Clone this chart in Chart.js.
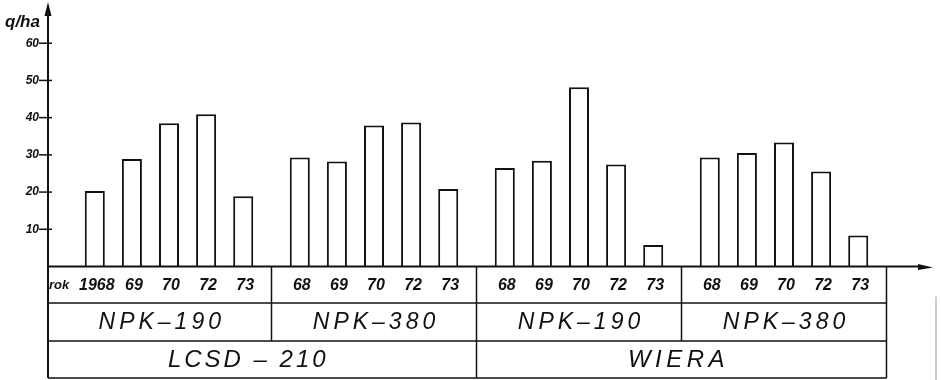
<!DOCTYPE html>
<html>
<head>
<meta charset="utf-8">
<script src="https://cdn.jsdelivr.net/npm/chart.js@4/dist/chart.umd.min.js"></script>
<style>
  body { margin: 0; background: #fff; }
  canvas { display: block; }
</style>
</head>
<body>
<canvas id="yield-chart" width="941" height="380"></canvas>
<script>
// data (yield in q/ha)
const years = ['1968', '69', '70', '72', '73'];
const fertilizers = ['NPK–190', 'NPK–380', 'NPK–190', 'NPK–380'];
const varieties = ['LCSD – 210', 'WIERA'];
const yTicks = [10, 20, 30, 40, 50, 60];
const yUnit = 'q/ha';
const yearLabel = 'rok';

// one array per variety / fertilizer block, in the order of years
const lcsdNpk190 = [20.3, 28.9, 38.5, 40.9, 18.9];
const lcsdNpk380 = [29.3, 28.2, 37.9, 38.7, 20.8];
const wieraNpk190 = [26.5, 28.4, 48.2, 27.4, 5.8];
const wieraNpk380 = [29.3, 30.5, 33.3, 25.5, 8.3];

const blocks = [lcsdNpk190, lcsdNpk380, wieraNpk190, wieraNpk380];

const ink = '#111';
const font = "'Liberation Sans', Arial, sans-serif";

// axes, arrows and the label table under the bars
const figurePlugin = {
    id: 'figure',
    afterDatasetsDraw(chart) {
        const { ctx, scales: { x, y } } = chart;
        const base = y.getPixelForValue(0);
        const axisX = 48;
        const row1 = base + 36.5;
        const row2 = base + 74.5;
        const row3 = base + 111.5;
        const edge = (i) => (i === 0 ? axisX : x.getPixelForValue(i - 0.5));
        const tableRight = edge(fertilizers.length);

        ctx.save();
        ctx.strokeStyle = ink;
        ctx.fillStyle = ink;

        // y axis with arrow
        ctx.lineWidth = 2;
        ctx.beginPath();
        ctx.moveTo(axisX, row3);
        ctx.lineTo(axisX, 8);
        ctx.stroke();
        ctx.beginPath();
        ctx.moveTo(axisX, 2);
        ctx.lineTo(axisX - 3.5, 16);
        ctx.lineTo(axisX + 3.5, 16);
        ctx.closePath();
        ctx.fill();

        // x axis with arrow
        ctx.beginPath();
        ctx.moveTo(axisX, base);
        ctx.lineTo(922, base);
        ctx.stroke();
        ctx.beginPath();
        ctx.moveTo(933, base + 1);
        ctx.lineTo(918, base - 2.5);
        ctx.lineTo(918, base + 3.5);
        ctx.closePath();
        ctx.fill();

        // y ticks
        ctx.lineWidth = 1.5;
        ctx.font = `bold italic 12px ${font}`;
        ctx.textAlign = 'right';
        ctx.textBaseline = 'middle';
        yTicks.forEach((v) => {
            const py = y.getPixelForValue(v);
            ctx.beginPath();
            ctx.moveTo(axisX - 9, py);
            ctx.lineTo(axisX + 4, py);
            ctx.stroke();
            ctx.fillText(String(v), axisX - 9, py);
        });

        // unit
        ctx.font = `bold italic 17px ${font}`;
        ctx.textAlign = 'left';
        ctx.textBaseline = 'alphabetic';
        ctx.fillText(yUnit, 5, 27);

        // table grid
        ctx.lineWidth = 1.5;
        ctx.beginPath();
        [row1, row2, row3].forEach((ry) => {
            ctx.moveTo(axisX, ry);
            ctx.lineTo(tableRight, ry);
        });
        for (let i = 1; i < fertilizers.length; i++) {
            const ex = edge(i);
            ctx.moveTo(ex, base);
            ctx.lineTo(ex, i === 2 ? row3 : row2);
        }
        ctx.moveTo(tableRight, base);
        ctx.lineTo(tableRight, row3);
        ctx.stroke();

        // faint frame line at the right edge of the scan
        ctx.strokeStyle = '#999';
        ctx.lineWidth = 1;
        ctx.beginPath();
        ctx.moveTo(936, base + 30);
        ctx.lineTo(936, 380);
        ctx.stroke();
        ctx.strokeStyle = ink;

        // year row
        const yearY = (base + row1) / 2;
        ctx.textBaseline = 'middle';
        ctx.textAlign = 'left';
        ctx.font = `bold italic 13px ${font}`;
        ctx.fillText(yearLabel, axisX + 1, yearY + 1);
        ctx.textAlign = 'center';
        ctx.font = `bold italic 16px ${font}`;
        years.forEach((label, d) => {
            const meta = chart.getDatasetMeta(d);
            meta.data.forEach((bar, g) => {
                ctx.fillText(g === 0 ? label : label.slice(-2), bar.x + 2, yearY + 1);
            });
        });

        // fertilizer row
        ctx.font = `italic 23px ${font}`;
        ctx.letterSpacing = '4px';
        fertilizers.forEach((label, i) => {
            const cx = (edge(i) + edge(i + 1)) / 2 + 2;
            ctx.fillText(label, cx, (row1 + row2) / 2 + 1);
        });

        // variety row
        ctx.font = `italic 24px ${font}`;
        ctx.letterSpacing = '3px';
        ctx.fillText(varieties[0], (edge(0) + edge(2)) / 2 - 14, (row2 + row3) / 2 + 1);
        ctx.letterSpacing = '4.5px';
        ctx.fillText(varieties[1], (edge(2) + tableRight) / 2 - 3, (row2 + row3) / 2 + 1);
        ctx.letterSpacing = '0px';

        ctx.restore();
    }
};

const ctx = document.getElementById('yield-chart').getContext('2d');
const yieldChart = new Chart(ctx, {
    type: 'bar',
    data: {
        labels: fertilizers,
        datasets: years.map((year, i) => ({
            label: year,
            data: blocks.map((block) => block[i]),
            backgroundColor: '#fff',
            borderColor: ink,
            borderWidth: 2,
            borderSkipped: 'start',
            categoryPercentage: 0.905,
            barPercentage: 0.54,
        }))
    },
    options: {
        responsive: false,
        animation: false,
        devicePixelRatio: 1,
        layout: {
            padding: { left: 66.5, right: 54.5, top: 6, bottom: 113.5 }
        },
        plugins: {
            legend: { display: false },
            tooltip: { enabled: false },
        },
        scales: {
            x: { display: false, offset: true },
            y: { display: false, min: 0, max: 70, ticks: { stepSize: 10 } }
        }
    },
    plugins: [figurePlugin]
});
</script>
</body>
</html>
